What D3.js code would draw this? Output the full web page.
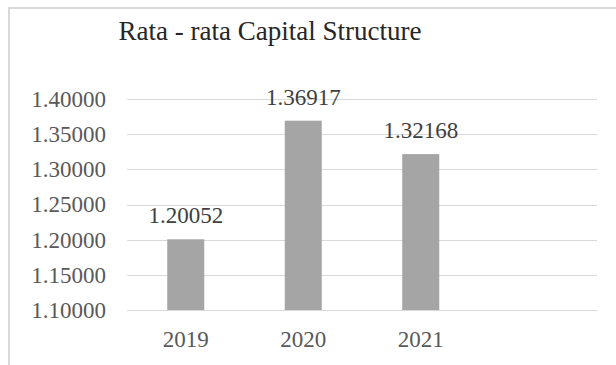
<!DOCTYPE html>
<html>
<head>
<meta charset="utf-8">
<script src="https://cdn.jsdelivr.net/npm/d3@7"></script>
<style>
  body { margin: 0; background: #fff; }
  svg { display: block; }
</style>
</head>
<body>
<script>
// Data
const years = ["2019", "2020", "2021", ""];
const values = [1.20052, 1.36917, 1.32168, null];
const yTicks = [1.10, 1.15, 1.20, 1.25, 1.30, 1.35, 1.40];
const title = "Rata - rata Capital Structure";

const width = 616, height = 365;
const font = "Liberation Serif, Times New Roman, serif";

const svg = d3.select("body")
  .append("svg")
  .attr("width", width)
  .attr("height", height);

// Chart frame
svg.append("rect")
  .attr("x", 9)
  .attr("y", 8)
  .attr("width", width + 20)
  .attr("height", height + 20)
  .attr("fill", "#fff")
  .attr("stroke", "#d9d9d9")
  .attr("stroke-width", 2);

// Title
svg.append("text")
  .attr("x", 270)
  .attr("y", 40)
  .attr("text-anchor", "middle")
  .style("font-family", font)
  .style("font-size", "27px")
  .attr("fill", "#262626")
  .text(title);

const x = d3.scaleBand()
  .domain(years.map((d, i) => i))
  .range([127, 597])
  .paddingInner(0.685)
  .paddingOuter(0.3425);

const y = d3.scaleLinear()
  .domain([1.10, 1.40])
  .range([310, 99]);

// Gridlines
svg.append("g")
  .selectAll("line")
  .data(yTicks)
  .join("line")
  .attr("x1", 127)
  .attr("x2", 597)
  .attr("y1", d => Math.round(y(d)) + 0.5)
  .attr("y2", d => Math.round(y(d)) + 0.5)
  .attr("stroke", "#d9d9d9")
  .attr("stroke-width", 1.2);

// Y axis labels
const yAxis = d3.axisLeft(y)
  .tickValues(yTicks)
  .tickFormat(d3.format(".5f"))
  .tickSize(0)
  .tickPadding(0);

svg.append("g")
  .attr("transform", "translate(106,0)")
  .call(yAxis)
  .call(g => g.select(".domain").remove())
  .call(g => g.selectAll("text")
    .style("font-family", font)
    .style("font-size", "23px")
    .attr("fill", "#595959"));

// Bars
const bars = years.map((d, i) => ({ i, v: values[i] })).filter(d => d.v != null);

svg.append("g")
  .selectAll("rect")
  .data(bars)
  .join("rect")
  .attr("x", d => x(d.i))
  .attr("y", d => y(d.v))
  .attr("width", x.bandwidth())
  .attr("height", d => y(1.10) - y(d.v))
  .attr("fill", "#a5a5a5");

// Data labels
svg.append("g")
  .selectAll("text")
  .data(bars)
  .join("text")
  .attr("x", d => x(d.i) + x.bandwidth() / 2)
  .attr("y", d => y(d.v) - 16)
  .attr("text-anchor", "middle")
  .style("font-family", font)
  .style("font-size", "23px")
  .attr("fill", "#404040")
  .text(d => d3.format(".5f")(d.v));

// X axis labels
svg.append("g")
  .selectAll("text")
  .data(years.filter(d => d))
  .join("text")
  .attr("x", (d, i) => x(i) + x.bandwidth() / 2)
  .attr("y", 347)
  .attr("text-anchor", "middle")
  .style("font-family", font)
  .style("font-size", "23px")
  .attr("fill", "#595959")
  .text(d => d);
</script>
</body>
</html>
